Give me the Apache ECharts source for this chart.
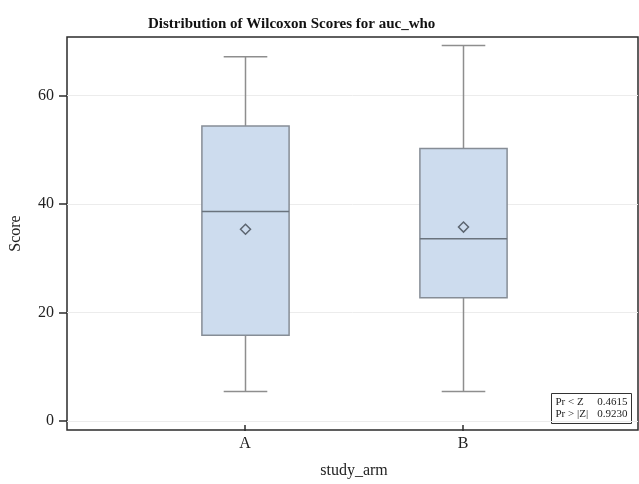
<!DOCTYPE html>
<html>
<head>
<meta charset="utf-8">
<script src="https://cdn.jsdelivr.net/npm/echarts@6/dist/echarts.min.js"></script>
<style>html,body{margin:0;padding:0;background:#fff}#c{width:639px;height:484px}</style>
</head>
<body>
<div id="c"></div>
<script>
const categories = ['A', 'B'];
const whiskerLow = [4.6, 4.6];
const quartile1 = [15.1, 22.1];
const medians = [38.2, 33.1];
const quartile3 = [54.2, 50.0];
const whiskerHigh = [67.1, 69.2];
const means = [34.9, 35.3];
const yTicks = [0, 20, 40, 60];
const statLabels = ['Pr < Z', 'Pr > |Z|'];
const statValues = ['0.4615', '0.9230'];

const Y_MIN = -1.66, Y_MAX = 70.8;
const FONT = '"Liberation Serif", "DejaVu Serif", serif';

const boxData = categories.map((c, i) => [i, whiskerLow[i], quartile1[i], medians[i], quartile3[i], whiskerHigh[i], means[i]]);

function renderItem(params, api) {
  const idx = api.value(0);
  const bw = api.size([1, 0])[0] * 0.4;
  const pLow = api.coord([idx, api.value(1)]);
  const pQ1 = api.coord([idx, api.value(2)]);
  const pMed = api.coord([idx, api.value(3)]);
  const pQ3 = api.coord([idx, api.value(4)]);
  const pHigh = api.coord([idx, api.value(5)]);
  const pMean = api.coord([idx, api.value(6)]);
  const cx = Math.round(pMed[0]) + 0.5;
  const half = bw / 2, cap = bw / 4;
  const whisk = {stroke: '#8e8e8e', lineWidth: 1.5};
  const d = 5;
  return {
    type: 'group',
    children: [
      {type: 'line', shape: {x1: cx, y1: pQ3[1], x2: cx, y2: pHigh[1]}, style: whisk},
      {type: 'line', shape: {x1: cx, y1: pQ1[1], x2: cx, y2: pLow[1]}, style: whisk},
      {type: 'line', shape: {x1: cx - cap, y1: pHigh[1], x2: cx + cap, y2: pHigh[1]}, style: whisk},
      {type: 'line', shape: {x1: cx - cap, y1: pLow[1], x2: cx + cap, y2: pLow[1]}, style: whisk},
      {type: 'rect', shape: {x: cx - half, y: pQ3[1], width: bw, height: pQ1[1] - pQ3[1]},
        style: {fill: '#cddcee', stroke: '#868d96', lineWidth: 1.5}},
      {type: 'line', shape: {x1: cx - half, y1: pMed[1], x2: cx + half, y2: pMed[1]},
        style: {stroke: '#6a737d', lineWidth: 1.5}},
      {type: 'polygon', shape: {points: [[cx, pMean[1] - d], [cx + d, pMean[1]], [cx, pMean[1] + d], [cx - d, pMean[1]]]},
        style: {fill: 'none', stroke: '#5c6570', lineWidth: 1.5}}
    ]
  };
}

const chart = echarts.init(document.getElementById('c'), null, {renderer: 'canvas'});
chart.setOption({
  animation: false,
  backgroundColor: '#fff',
  title: {
    text: 'Distribution of Wilcoxon Scores for auc_who',
    left: 143, top: 12,
    textStyle: {fontFamily: FONT, fontSize: 15, fontWeight: 'bold', color: '#111'}
  },
  grid: [
    {left: 66, right: 1, top: 37, bottom: 54, show: true, borderColor: '#2b2b2b', borderWidth: 1.5, backgroundColor: 'transparent'},
    {left: 136, right: 67, top: 37, bottom: 54}
  ],
  xAxis: [
    {gridIndex: 0, type: 'value', min: 0, max: 1, show: false},
    {gridIndex: 1, type: 'category', data: categories,
      axisLine: {show: false, onZero: false},
      axisTick: {show: true, alignWithLabel: true, length: 6, lineStyle: {color: '#2b2b2b', width: 1.5}},
      axisLabel: {fontFamily: FONT, fontSize: 16, color: '#222', margin: 11},
      name: 'study_arm', nameLocation: 'middle', nameGap: 38,
      nameTextStyle: {fontFamily: FONT, fontSize: 16, color: '#222'}}
  ],
  yAxis: [
    {gridIndex: 0, type: 'value', min: Y_MIN, max: Y_MAX, splitNumber: 3,
      axisLine: {show: false},
      axisTick: {show: true, inside: false, length: 8, lineStyle: {color: '#2b2b2b', width: 1.5},
        customValues: yTicks},
      axisLabel: {fontFamily: FONT, fontSize: 16, color: '#222', margin: 13,
        customValues: yTicks},
      splitLine: {show: true, lineStyle: {color: '#ececec', width: 1}},
      name: 'Score', nameLocation: 'middle', nameGap: 43, nameRotate: 90,
      nameTextStyle: {fontFamily: FONT, fontSize: 16, color: '#222'}},
    {gridIndex: 1, type: 'value', min: Y_MIN, max: Y_MAX, show: false, splitLine: {show: false}}
  ],
  series: [{
    type: 'custom',
    xAxisIndex: 1, yAxisIndex: 1,
    renderItem: renderItem,
    data: boxData,
    z: 5
  }],
  graphic: [{
    type: 'group', left: 551, top: 393, z: 20,
    children: [
      {type: 'rect', shape: {x: 0, y: 0, width: 80, height: 30}, style: {fill: '#fff', stroke: '#333', lineWidth: 1}},
      {type: 'text', x: 4, y: 9, style: {text: statLabels[0], font: '11px ' + FONT, fill: '#222', verticalAlign: 'middle'}},
      {type: 'text', x: 76, y: 9, style: {text: statValues[0], font: '11px ' + FONT, fill: '#222', align: 'right', verticalAlign: 'middle'}},
      {type: 'text', x: 4, y: 21, style: {text: statLabels[1], font: '11px ' + FONT, fill: '#222', verticalAlign: 'middle'}},
      {type: 'text', x: 76, y: 21, style: {text: statValues[1], font: '11px ' + FONT, fill: '#222', align: 'right', verticalAlign: 'middle'}}
    ]
  }]
});
</script>
</body>
</html>
